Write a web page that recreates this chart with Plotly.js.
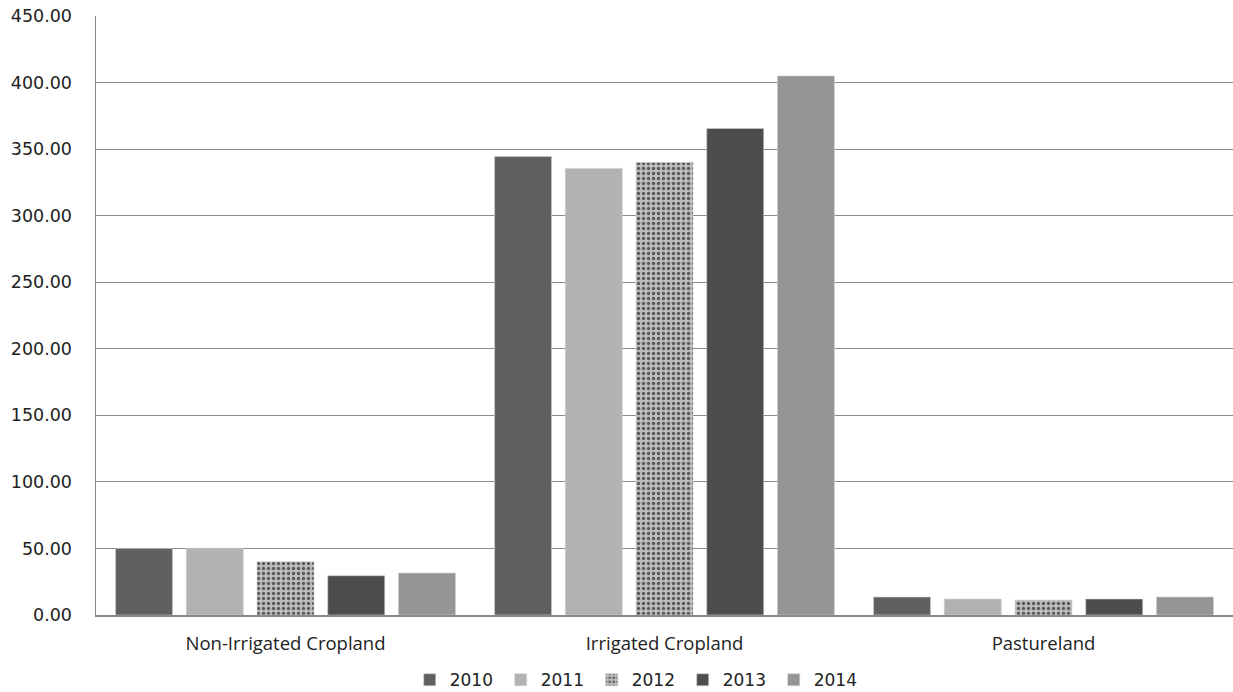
<!DOCTYPE html>
<html>
<head>
<meta charset="utf-8">
<script src="https://cdn.plot.ly/plotly-3.0.1.min.js"></script>
<style>html,body{margin:0;padding:0;background:#fff;}#chart{width:1233px;height:692px;}</style>
</head>
<body>
<div id="chart"></div>
<script>
const categories = ["Non-Irrigated Cropland", "Irrigated Cropland", "Pastureland"];
const years = ["2010", "2011", "2012", "2013", "2014"];
const v2010 = [50.0, 344.5, 13.5];
const v2011 = [50.0, 335.5, 12.0];
const v2012 = [40.0, 340.0, 11.3];
const v2013 = [29.5, 365.5, 12.0];
const v2014 = [31.5, 405.0, 13.5];
const yTicks = [0, 50, 100, 150, 200, 250, 300, 350, 400, 450];

const seriesValues = [v2010, v2011, v2012, v2013, v2014];
const colors = ["#606060", "#b2b2b2", "#a8a8a8", "#4d4d4d", "#959595"];

const traces = years.map((yr, i) => {
  const t = {
    type: "bar",
    name: yr,
    x: categories,
    y: seriesValues[i],
    marker: {color: colors[i], line: {color: "#d0d0d0", width: 0.6}},
    hoverinfo: "x+y+name"
  };
  if (yr === "2012") {
    t.marker.pattern = {shape: ".", bgcolor: "#bdbdbd", fgcolor: "#595959", size: 5, solidity: 0.35, fillmode: "replace"};
  }
  return t;
});

const layout = {
  width: 1233, height: 692,
  margin: {l: 96, r: 0, t: 16, b: 77, autoexpand: false},
  paper_bgcolor: "#ffffff", plot_bgcolor: "#ffffff",
  barmode: "group",
  bargap: 0.067,
  bargroupgap: 0.194,
  showlegend: true,
  legend: {
    orientation: "h", xref: "paper", x: 0.476, xanchor: "center",
    yref: "container", y: 0.017, yanchor: "middle",
    entrywidth: 46, entrywidthmode: "pixels",
    font: {family: "DejaVu Sans", size: 17, color: "#222"},
    traceorder: "normal"
  },
  xaxis: {
    type: "category",
    showline: true, linecolor: "#888888", linewidth: 1.5,
    showgrid: false, zeroline: false,
    ticks: "", ticklabelstandoff: 11,
    tickfont: {family: "Open Sans", size: 18.5, color: "#222"}
  },
  yaxis: {
    range: [0, 450],
    tickvals: yTicks,
    ticktext: yTicks.map(v => v.toFixed(2)),
    showline: true, linecolor: "#888888", linewidth: 1.5,
    showgrid: true, gridcolor: "#8c8c8c", gridwidth: 1.1,
    zeroline: false, ticks: "", ticklabelstandoff: 19,
    tickfont: {family: "DejaVu Sans", size: 17.5, color: "#222"}
  }
};

Plotly.newPlot("chart", traces, layout, {displayModeBar: false, staticPlot: true});
</script>
</body>
</html>
